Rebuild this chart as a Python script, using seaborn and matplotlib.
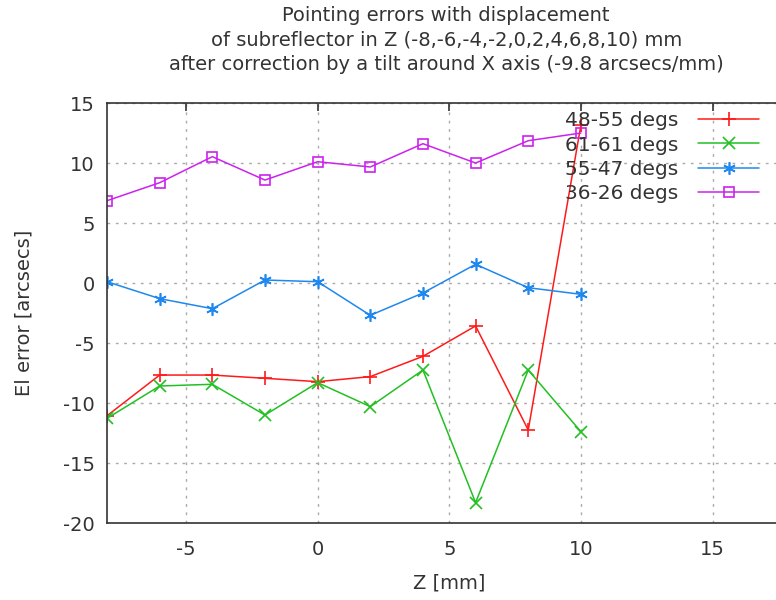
import matplotlib
matplotlib.use("Agg")
import matplotlib.pyplot as plt
import seaborn as sns
import pandas as pd

z = [-8, -6, -4, -2, 0, 2, 4, 6, 8, 10]
s_48_55 = [-11.06, -7.67, -7.67, -7.94, -8.22, -7.8, -6.11, -3.58, -12.25, 13.17]
s_61_61 = [-11.28, -8.58, -8.44, -11.0, -8.3, -10.3, -7.25, -18.3, -7.25, -12.39]
s_55_47 = [0.11, -1.3, -2.14, 0.25, 0.11, -2.69, -0.83, 1.56, -0.39, -0.94]
s_36_26 = [6.86, 8.36, 10.53, 8.58, 10.11, 9.67, 11.61, 10.0, 11.86, 12.5]
labels = ["48-55 degs", "61-61 degs", "55-47 degs", "36-26 degs"]
colors = ["#ff1a1a", "#22c022", "#1e88ee", "#cc22ee"]
markers = ["+", "x", (6, 2, 0), "s"]
msizes = [10, 8, 9, 7]

rows = []
for lab, vals in zip(labels, [s_48_55, s_61_61, s_55_47, s_36_26]):
    for zz, v in zip(z, vals):
        rows.append({"Z": zz, "err": v, "series": lab})
df = pd.DataFrame(rows)

sns.set_theme(style="white")
plt.rcParams['font.family'] = ['DejaVu Sans']
plt.rcParams['axes.unicode_minus'] = False

fig = plt.figure(figsize=(7.76, 6.0), dpi=100)
ax = fig.add_axes([0.1379, 0.1283, 0.8821, 0.70])

for lab, col, mk, ms in zip(labels, colors, markers, msizes):
    sub = df[df["series"] == lab]
    kw = dict(markersize=ms, markeredgewidth=1.2)
    if mk == "s":
        kw.update(markerfacecolor="none")
    sns.lineplot(data=sub, x="Z", y="err", ax=ax, color=col, marker=mk,
                 linewidth=1.1, label=lab, markeredgecolor=col, **kw)

ax.set_xlim(-8, 18)
ax.set_ylim(-20, 15)
ax.set_xticks([-5, 0, 5, 10, 15])
ax.set_yticks([-20, -15, -10, -5, 0, 5, 10, 15])
ax.grid(True, color="#aaaaaa", linestyle=(0, (2, 4)), linewidth=1.0)
for sp in ax.spines.values():
    sp.set_color("#333333")
    sp.set_linewidth(1.2)
ax.tick_params(direction="in", length=6, width=1.2, color="#333333",
               labelsize=14, labelcolor="#333333", top=True, right=True)
ax.tick_params(axis="x", pad=12)
ax.tick_params(axis="y", pad=9)
ax.set_xlabel("Z [mm]", fontsize=14, color="#333333", labelpad=11)
ax.set_ylabel("El error [arcsecs]", fontsize=14, color="#333333", labelpad=21)
fig.suptitle("Pointing errors with displacement\nof subreflector in Z (-8,-6,-4,-2,0,2,4,6,8,10) mm\n"
             "after correction by a tilt around X axis (-9.8 arcsecs/mm)",
             fontsize=14, color="#333333", x=0.575, y=0.99, linespacing=1.36)

leg = ax.legend(loc="upper right", bbox_to_anchor=(0.964, 1.0), frameon=False,
                fontsize=14.5, markerfirst=False, handlelength=3.0,
                labelspacing=0.27, borderaxespad=0.0, handletextpad=1.0)
for t in leg.get_texts():
    t.set_color("#333333")
leg._legend_box.align = "right"

fig.savefig("out.png", dpi=100)
